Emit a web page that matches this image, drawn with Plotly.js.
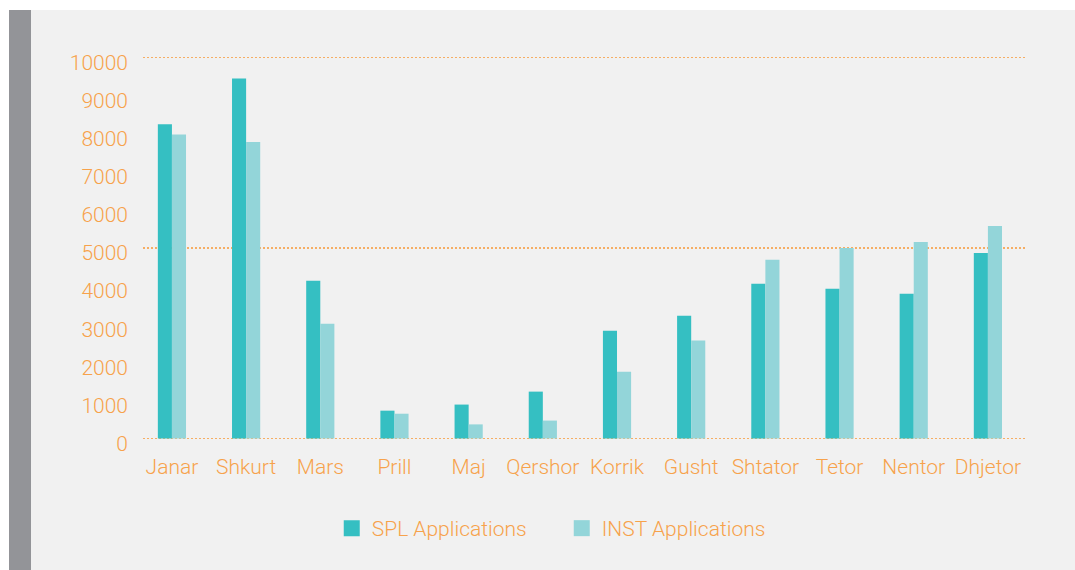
<!DOCTYPE html>
<html>
<head>
<meta charset="utf-8">
<script src="https://cdn.plot.ly/plotly-3.0.1.min.js"></script>
<style>
  html, body { margin: 0; padding: 0; background: #ffffff; }
  #wrap { position: relative; width: 1075px; height: 570px; overflow: hidden; }
  #side { position: absolute; left: 9px; top: 10px; width: 22px; height: 560px; background: #939498; }
  #chart { position: absolute; left: 31px; top: 10px; width: 1044px; height: 560px; }
</style>
</head>
<body>
<div id="wrap">
  <div id="side"></div>
  <div id="chart"></div>
</div>
<script>
const months = ["Janar", "Shkurt", "Mars", "Prill", "Maj", "Qershor", "Korrik", "Gusht", "Shtator", "Tetor", "Nentor", "Dhjetor"];
const splApplications = [8250, 9450, 4140, 730, 890, 1230, 2830, 3220, 4060, 3930, 3800, 4870];
const instApplications = [7980, 7780, 3010, 650, 370, 470, 1750, 2570, 4690, 5000, 5160, 5580];
const yTicks = [0, 1000, 2000, 3000, 4000, 5000, 6000, 7000, 8000, 9000, 10000];
const gridTicks = [0, 5000, 10000];
const seriesNames = ["SPL Applications", "INST Applications"];
const seriesColors = ["#35bfc2", "#93d5d9"];

const orange = "#f7a24b";
const fontFam = "Roboto, 'Liberation Sans', Arial, sans-serif";
const emptyY = months.map(() => null);

const traces = [
  { type: "bar", name: seriesNames[0], x: months, y: splApplications,
    marker: { color: seriesColors[0] }, showlegend: false, hoverinfo: "x+y" },
  { type: "bar", name: seriesNames[1], x: months, y: instApplications,
    marker: { color: seriesColors[1] }, showlegend: false, hoverinfo: "x+y" },
  // legend entries (larger square swatches)
  { type: "scatter", mode: "markers", name: seriesNames[0], x: months, y: emptyY,
    marker: { symbol: "square", size: 16, color: seriesColors[0] }, hoverinfo: "skip" },
  { type: "scatter", mode: "markers", name: seriesNames[1], x: months, y: emptyY,
    marker: { symbol: "square", size: 16, color: seriesColors[1] }, hoverinfo: "skip" },
  // carrier for the sparse grid axis
  { type: "scatter", x: months, y: emptyY, yaxis: "y2", showlegend: false, hoverinfo: "skip" }
];

const yRange = [-40, 10040];

const layout = {
  width: 1044, height: 560,
  paper_bgcolor: "#f1f1f1", plot_bgcolor: "rgba(0,0,0,0)",
  margin: { l: 112, r: 50, t: 46, b: 130 },
  barmode: "group", bargap: 0.62, bargroupgap: 0,
  font: { family: fontFam, color: orange, size: 21, weight: 300 },
  xaxis: {
    type: "category", range: [-0.39, 11.5],
    showgrid: false, zeroline: false, showline: false, ticks: "",
    ticklabelstandoff: 12,
    tickfont: { family: fontFam, color: orange, size: 21, weight: 300 }
  },
  yaxis: {
    range: yRange, tickvals: yTicks, ticktext: yTicks.map(String),
    showgrid: false, zeroline: false, showline: false, ticks: "",
    ticklabelstandoff: 14, ticklabelshift: 5,
    tickfont: { family: fontFam, color: orange, size: 21, weight: 300 }
  },
  yaxis2: {
    overlaying: "y", range: yRange, tickvals: gridTicks,
    showgrid: true, gridcolor: "rgba(247,162,75,0.85)", griddash: "2px,2px", gridwidth: 1.5,
    zeroline: false, showticklabels: false, ticks: "", showline: false
  },
  showlegend: true,
  legend: {
    orientation: "h", x: 0.214, xanchor: "left", y: -0.2305, yanchor: "middle",
    bgcolor: "rgba(0,0,0,0)", entrywidth: 185, entrywidthmode: "pixels",
    font: { family: fontFam, color: orange, size: 21, weight: 300 }
  }
};

Plotly.newPlot("chart", traces, layout, { displayModeBar: false, staticPlot: true });
</script>
</body>
</html>
